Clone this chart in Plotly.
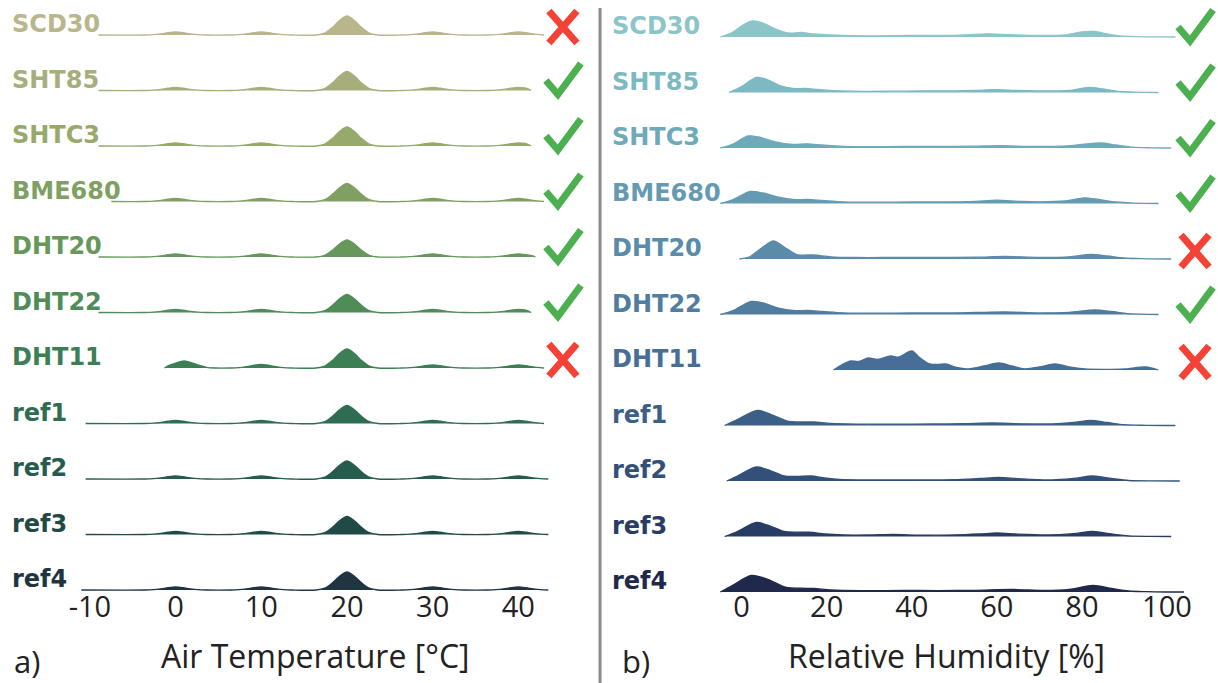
import plotly.graph_objects as go

# ---------------------------------------------------------------- data
SENSORS = ["SCD30", "SHT85", "SHTC3", "BME680", "DHT20", "DHT22", "DHT11",
           "ref1", "ref2", "ref3", "ref4"]

# pass / fail verdict per sensor (None = reference instrument)
TEMP_OK = [False, True, True, True, True, True, False, None, None, None, None]
RH_OK = [True, True, True, True, False, True, False, None, None, None, None]

TEMP_TICKS = [-10, 0, 10, 20, 30, 40]
TEMP_TICK_TEXT = ["-10", "0", "10", "20", "30", "40"]
RH_TICKS = [0, 20, 40, 60, 80, 100]
RH_TICK_TEXT = ["0", "20", "40", "60", "80", "100"]

# air temperature: density peaks (setpoint °C, peak density a.u.) per sensor
T_SCD30 = [(0, 3), (10, 3), (20, 19), (30, 3), (40, 3)]
T_SHT85 = [(0, 3), (10, 3), (20, 19), (30, 3), (40, 3)]
T_SHTC3 = [(0, 3), (10, 3), (20, 19), (30, 3), (40, 3)]
T_BME680 = [(0, 3), (10, 3), (20, 18), (30, 3), (40, 3)]
T_DHT20 = [(0, 3), (10, 3), (20, 17), (30, 3), (40, 3)]
T_DHT22 = [(0, 3), (10, 3), (20, 18), (30, 3), (40, 3)]
T_DHT11 = [(1, 7), (10, 3.5), (20, 19), (30, 3), (40, 3)]
T_REF1 = [(0, 3), (10, 3), (20, 18), (30, 3), (40, 3)]
T_REF2 = [(0, 3), (10, 3), (20, 18), (30, 3), (40, 3)]
T_REF3 = [(0, 3), (10, 3), (20, 18), (30, 3), (40, 3)]
T_REF4 = [(0, 3), (10, 3), (20, 18), (30, 3), (40, 3)]
# observed temperature span (min, max) per sensor
T_SPAN = [(-9, 43), (-9, 41.5), (-9, 41.5), (-7.5, 43), (-9, 42), (-9, 41.5),
          (-1.3, 43), (-10.5, 43), (-10.5, 43.5), (-10.5, 43.5), (-11, 43.5)]
# shape of a single setpoint peak: offset (°C) and relative density
PEAK_OFFSETS = [-3.6, -2.6, -1.7, -0.9, 0, 0.9, 1.7, 2.6, 3.6]
PEAK_SHAPE = [0, 0.1, 0.4, 0.75, 1, 0.75, 0.4, 0.1, 0]

# relative humidity: (RH %, density a.u.) per sensor
RH_SCD30 = [(-5, 0), (-2, 5), (0, 11), (2.5, 16), (5, 14), (8, 8), (11, 4),
            (14, 4.5), (17, 3), (21, 2), (26, 1.3), (32, 1.2), (40, 1.6),
            (47, 1.5), (53, 2.2), (58, 3.2), (63, 2.3), (70, 1.5), (76, 2),
            (80, 5), (83, 5.5), (86, 3), (89, 1), (93, 0.3), (102, 0)]
RH_SHT85 = [(-3, 0), (0, 6), (3.5, 15), (6, 13), (9, 7), (12, 4), (15, 4),
            (18, 3), (22, 1.8), (28, 1.2), (35, 1.3), (42, 1.6), (50, 1.5),
            (55, 2), (59.5, 2.8), (65, 2), (72, 1.5), (77, 2), (81.5, 5),
            (85, 3.5), (89, 1), (93, 0.3), (98, 0)]
RH_SHTC3 = [(-5, 0), (-2, 4), (1.5, 12), (4, 11), (8, 6), (12, 3.5),
            (15.5, 4.2), (19, 3), (24, 1.6), (30, 1.3), (38, 1.5), (46, 1.6),
            (54, 1.8), (61, 2.3), (68, 1.6), (75, 1.8), (80, 3.5), (84.5, 5),
            (88, 3), (92, 0.8), (96, 0.2), (101, 0)]
RH_BME680 = [(-5, 0), (-2, 4), (2, 12), (5, 10.5), (9, 6), (12, 4),
             (15.5, 4), (19, 3), (24, 1.6), (32, 1.3), (40, 1.6), (48, 1.5),
             (55, 2.2), (60, 3.3), (66, 2), (72, 1.8), (77, 3), (80.5, 5.7),
             (84, 4), (88, 1.5), (92, 0.4), (98, 0)]
RH_DHT20 = [(-0.5, 0), (2, 2.5), (5, 12), (7.5, 18), (10, 12), (13, 4.5),
            (17, 4), (21, 2.2), (27, 1.5), (35, 1.5), (45, 1.7), (55, 1.8),
            (62, 2.5), (70, 1.6), (77, 2.2), (82, 4.5), (86, 3), (90, 1),
            (94, 0.3), (101, 0)]
RH_DHT22 = [(-5, 0), (-2, 4), (2.3, 13), (5, 11.5), (9, 6), (12, 4),
            (15.5, 4), (19, 3), (24, 1.6), (32, 1.3), (40, 1.6), (48, 1.5),
            (55, 2), (62, 2.5), (70, 1.6), (77, 2.2), (83, 4.5), (87, 3),
            (91, 0.8), (98, 0)]
RH_DHT11 = [(21.6, 0), (23.5, 5), (25.6, 9), (27.5, 8.5), (29.8, 12),
            (32, 10.5), (35, 14), (37, 13), (40, 19), (42, 12), (44, 6.5),
            (46, 5.5), (48, 6), (50.5, 2.5), (53, 1), (57, 4), (60.5, 7),
            (63.5, 4), (66.7, 1.2), (70, 3), (73.7, 6), (77, 3), (80.7, 1),
            (85, 0.6), (90, 1), (95, 3), (98, 0)]
RH_REF1 = [(-4, 0), (-1, 6), (3.7, 15), (7, 11), (11, 4), (14, 3.5),
           (17, 3.5), (21, 2), (27, 1.4), (35, 1.4), (45, 1.5), (52, 1.8),
           (59, 2.5), (66, 1.7), (73, 1.6), (78, 3), (82, 5), (86, 3),
           (90, 0.8), (95, 0.2), (102, 0)]
RH_REF2 = [(-3.5, 0), (-1, 5), (3.5, 14), (7, 10), (10, 5), (13, 4.5),
           (16.3, 5), (19.5, 3), (23, 1.5), (30, 1), (40, 1.1), (50, 1.3),
           (56, 2.5), (60.5, 3.5), (65, 2.3), (72, 1), (78, 2.5), (82.6, 5),
           (87, 2.5), (91, 0.5), (96, 0.1), (103, 0)]
RH_REF3 = [(-4, 0), (-1, 5), (3.5, 14), (7, 10), (10, 5), (13, 4.3),
           (16, 4.3), (19.5, 2.5), (24, 1.5), (30, 1.5), (35.6, 2), (42, 1.4),
           (50, 1.5), (56, 2.5), (60, 3.5), (65, 2.3), (72, 1.5), (78, 2.8),
           (82.6, 5), (87, 2.5), (91, 0.6), (96, 0.1), (101, 0)]
RH_REF4 = [(-5, 0), (-2, 7), (2.3, 16.5), (6, 13), (10.5, 4.5), (14, 3.8),
           (17, 3.5), (21, 2), (28, 1.3), (38, 1.6), (46, 1.4), (55, 1.7),
           (64, 2.5), (71, 1.5), (77, 2.5), (82.6, 6.5), (87, 3.5), (91, 1),
           (95, 0.3), (100, 0), (104, 0)]

T_PEAKS = [T_SCD30, T_SHT85, T_SHTC3, T_BME680, T_DHT20, T_DHT22, T_DHT11,
           T_REF1, T_REF2, T_REF3, T_REF4]
RH_CURVES = [RH_SCD30, RH_SHT85, RH_SHTC3, RH_BME680, RH_DHT20, RH_DHT22,
             RH_DHT11, RH_REF1, RH_REF2, RH_REF3, RH_REF4]

# ---------------------------------------------------------------- style
TEMP_COLORS = ["#b9b68b", "#a8ae7b", "#97a96b", "#7fa062", "#66975b",
               "#4f8c57", "#3d7f55", "#2f6d53", "#265c4e", "#1f4a46",
               "#1f3541"]
RH_COLORS = ["#8cc5c8", "#7db9c3", "#6eaab9", "#649bb2", "#5a8caa",
             "#507da0", "#466e96", "#3c5f87", "#325078", "#283c64",
             "#20284b"]
OK_GREEN = "#4caf50"
FAIL_RED = "#f44336"
ROW_PX = 55.5           # vertical spacing between ridge baselines
DENS_SCALE = 1 / ROW_PX  # density units -> row units
LABEL_FONT = "DejaVu Sans"
AXIS_FONT = "Open Sans"
W, H = 1218, 683

n = len(SENSORS)
fig = go.Figure()


def ridge(xs, hs, base, color, xaxis, yaxis):
    ys = [base + h * DENS_SCALE for h in hs]
    fig.add_trace(go.Scatter(
        x=xs, y=ys, mode="lines", fill="toself", fillcolor=color,
        line=dict(color=color, width=1.3, shape="spline", smoothing=0.8),
        xaxis=xaxis, yaxis=yaxis, hoverinfo="skip", showlegend=False))


for i, name in enumerate(SENSORS):
    base = n - 1 - i
    # temperature ridge built from its setpoint peaks
    lo, hi = T_SPAN[i]
    pts = [(lo, 0.0)]
    for c, h in T_PEAKS[i]:
        for off, frac in zip(PEAK_OFFSETS, PEAK_SHAPE):
            x = c + off
            if lo < x < hi:
                pts.append((x, h * frac))
    pts.append((hi, 0.0))
    pts.sort()
    ridge([p[0] for p in pts], [p[1] for p in pts], base,
          TEMP_COLORS[i], "x", "y")
    # humidity ridge
    cur = RH_CURVES[i]
    ridge([p[0] for p in cur], [p[1] for p in cur], base,
          RH_COLORS[i], "x2", "y2")

# ---------------------------------------------------------------- labels
annotations = []
for i, name in enumerate(SENSORS):
    base = n - 1 - i
    annotations.append(dict(
        text=f"<b>{name}</b>", xref="paper", x=6 / W, xanchor="left",
        yref="y", y=base + 11 / ROW_PX, yanchor="middle", showarrow=False,
        font=dict(family=LABEL_FONT, size=24, color=TEMP_COLORS[i])))
    annotations.append(dict(
        text=f"<b>{name}</b>", xref="paper", x=608 / W, xanchor="left",
        yref="y2", y=base + 11 / ROW_PX, yanchor="middle", showarrow=False,
        font=dict(family=LABEL_FONT, size=24, color=RH_COLORS[i])))

for txt, xc in [("Air Temperature [°C]", 313), ("Relative Humidity [%]", 946)]:
    annotations.append(dict(
        text=txt, xref="paper", x=xc / W, xanchor="center",
        yref="paper", y=(H - 655) / H, yanchor="middle", showarrow=False,
        font=dict(family=AXIS_FONT, size=32, color="#222222")))
for txt, xl in [("a)", 8), ("b)", 618)]:
    annotations.append(dict(
        text=txt, xref="paper", x=xl / W, xanchor="left",
        yref="paper", y=(H - 661) / H, yanchor="middle", showarrow=False,
        font=dict(family=AXIS_FONT, size=31, color="#222222")))

# ---------------------------------------------------------------- verdict marks
CHECK_PATH = "M -17,10 L -5,-4 L 18,27"
CROSS_PATH = "M -14,24 L 14,-8 M -14,-8 L 14,24"
shapes = []
for marks, xref, yref, xpos in [(TEMP_OK, "x", "y", 45.2),
                                (RH_OK, "x2", "y2", 106.6)]:
    for i, ok in enumerate(marks):
        if ok is None:
            continue
        shapes.append(dict(
            type="path", xref=xref, yref=yref,
            xsizemode="pixel", ysizemode="pixel",
            xanchor=xpos, yanchor=n - 1 - i,
            path=CHECK_PATH if ok else CROSS_PATH,
            line=dict(color=OK_GREEN if ok else FAIL_RED, width=7),
            layer="above"))

# panel divider
shapes.append(dict(type="line", xref="paper", yref="paper",
                   x0=598 / W, x1=598 / W, y0=0, y1=(H - 8) / H,
                   line=dict(color="#8a8a8a", width=3)))

# ---------------------------------------------------------------- axes
plot_bottom = 594
ydom = [(H - plot_bottom) / H, 1]
y_top = 590 / ROW_PX
y_bot = (590 - plot_bottom) / ROW_PX
y2_top = 592 / ROW_PX
y2_bot = (592 - plot_bottom) / ROW_PX

tick_font = dict(family=AXIS_FONT, size=29, color="#222222")
common_x = dict(showgrid=False, zeroline=False, showline=False, ticks="",
                tickfont=tick_font, fixedrange=True, ticklabelstandoff=-7)

fig.update_layout(
    width=W, height=H,
    margin=dict(l=0, r=0, t=0, b=0),
    paper_bgcolor="white", plot_bgcolor="white",
    xaxis=dict(domain=[69 / W, 602 / W], range=[-12, 50],
               tickvals=TEMP_TICKS, ticktext=TEMP_TICK_TEXT,
               anchor="y", **common_x),
    xaxis2=dict(domain=[688.8 / W, 1.0], range=[-12, 112],
                tickvals=RH_TICKS, ticktext=RH_TICK_TEXT,
                anchor="y2", **common_x),
    yaxis=dict(domain=ydom, range=[y_bot, y_top], visible=False,
               fixedrange=True),
    yaxis2=dict(domain=ydom, range=[y2_bot, y2_top], visible=False,
                fixedrange=True, anchor="x2"),
    annotations=annotations,
    shapes=shapes,
)

fig.write_html("out.html")
